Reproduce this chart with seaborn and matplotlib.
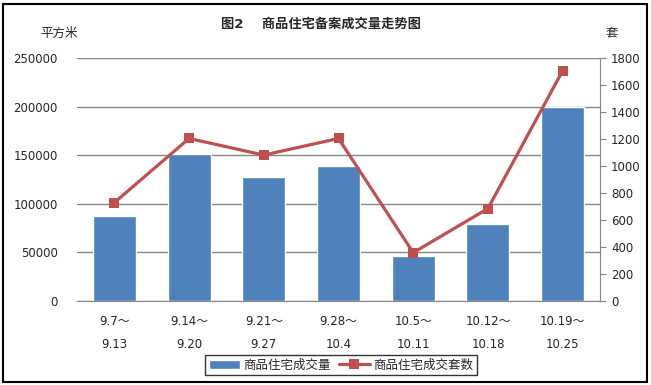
"""
Weekly new-home transactions chart: area (bars, left axis) and units (line, right axis).
"""

import numpy as np
import pandas as pd
import matplotlib
matplotlib.use('Agg')
import matplotlib.pyplot as plt
import seaborn as sns
from matplotlib.patches import Rectangle

# data
weeks = ['9.7～\n9.13', '9.14～\n9.20', '9.21～\n9.27', '9.28～\n10.4',
         '10.5～\n10.11', '10.12～\n10.18', '10.19～\n10.25']
area = [87500, 151400, 127700, 139000, 46400, 79300, 199800]
units = [729, 1204, 1081, 1204, 358, 685, 1706]

left_ticks = [0, 50000, 100000, 150000, 200000, 250000]
right_ticks = [0, 200, 400, 600, 800, 1000, 1200, 1400, 1600, 1800]

title = '图2    商品住宅备案成交量走势图'
left_unit = '平方米'
right_unit = '套'
bar_label = '商品住宅成交量'
line_label = '商品住宅成交套数'

BAR_COLOR = '#4F81BD'
LINE_COLOR = '#C0504D'
GRID_COLOR = '#868686'

sns.set_style('white')
plt.rcParams['font.family'] = ['DejaVu Sans', 'Noto Sans CJK SC']
plt.rcParams['font.size'] = 8.5

df = pd.DataFrame({'week': weeks, 'area': area, 'units': units})

fig = plt.figure(figsize=(6.51, 3.85), dpi=100)
ax = fig.add_axes([77 / 651, 1 - 301 / 385, 523 / 651, 243 / 385])

sns.barplot(data=df, x='week', y='area', color=BAR_COLOR, saturation=1,
            width=0.575, ax=ax, zorder=2, label=bar_label)
if ax.get_legend() is not None:
    ax.get_legend().remove()
ax.set_ylim(0, 250000)
ax.set_yticks(left_ticks)
ax.set_xlim(-0.5, len(weeks) - 0.5)
ax.yaxis.grid(True, color=GRID_COLOR, linewidth=1)
ax.set_axisbelow(True)
ax.set_xlabel('')
ax.set_ylabel('')
for s in ax.spines.values():
    s.set_visible(False)
ax.spines['bottom'].set_visible(True)
ax.spines['bottom'].set_color(GRID_COLOR)
ax.tick_params(axis='y', length=0, pad=14, labelsize=8.5)
ax.tick_params(axis='x', length=0, pad=10, labelsize=8.5)
for lbl in ax.get_xticklabels():
    lbl.set_linespacing(2.0)

ax2 = ax.twinx()
sns.lineplot(x=np.arange(len(weeks)), y=units, ax=ax2, color=LINE_COLOR,
             linewidth=2.3, marker='s', markersize=7.5, markeredgewidth=0,
             label=line_label, legend=False)
ax2.set_ylim(0, 1800)
ax2.set_yticks(right_ticks)
ax2.set_xlim(-0.5, len(weeks) - 0.5)
for s in ax2.spines.values():
    s.set_visible(False)
ax2.spines['right'].set_visible(True)
ax2.spines['right'].set_color(GRID_COLOR)
ax2.tick_params(axis='y', length=4, color=GRID_COLOR, direction='out',
                pad=4, labelsize=8.5)
ax2.grid(False)

# titles and axis units
fig.text(321 / 651, 1 - 24 / 385, title, ha='center', va='center',
         fontsize=9.5, fontweight='bold')
fig.text(59 / 651, 1 - 33 / 385, left_unit, ha='center', va='center', fontsize=9)
fig.text(612 / 651, 1 - 33 / 385, right_unit, ha='center', va='center', fontsize=9)

# legend under the chart
h1, l1 = ax.get_legend_handles_labels()
h2, l2 = ax2.get_legend_handles_labels()
leg = fig.legend(h1 + h2, l1 + l2, loc='center', bbox_to_anchor=(341 / 651, 1 - 365 / 385),
                 ncol=2, frameon=True, fancybox=False, edgecolor='black',
                 fontsize=9, handlelength=2.5, handletextpad=0.3, columnspacing=0.6,
                 borderpad=0.25)
leg.get_frame().set_linewidth(1)

# outer border
fig.patches.append(Rectangle((3 / 651, 3 / 385), 644 / 651, 378 / 385,
                             transform=fig.transFigure, fill=False,
                             edgecolor='black', linewidth=1.5))

fig.savefig('out.png', dpi=100)
